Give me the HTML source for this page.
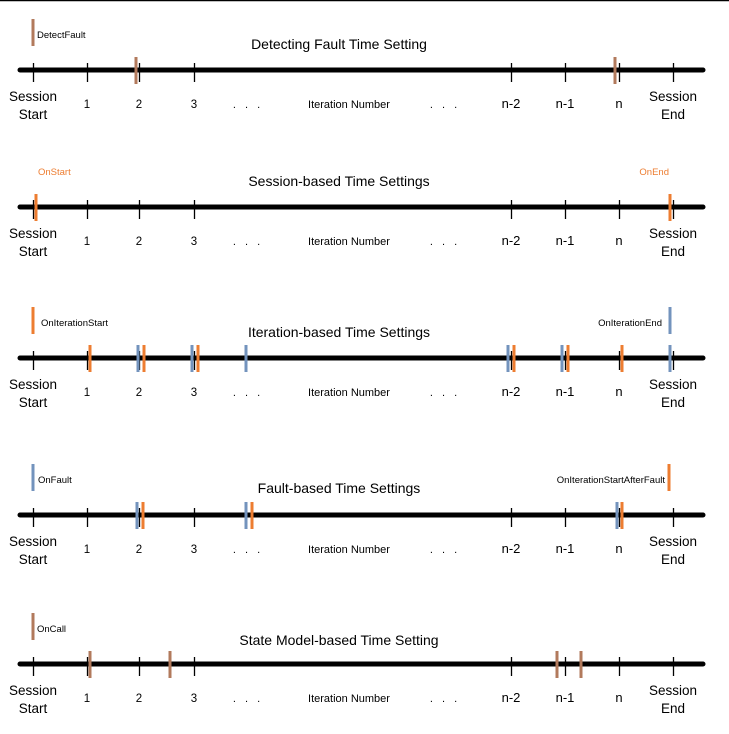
<!DOCTYPE html>
<html><head><meta charset="utf-8"><style>
body{margin:0;background:#fff;width:729px;height:734px;overflow:hidden}
svg{display:block;font-family:"Liberation Sans","DejaVu Sans",sans-serif}
</style></head><body>
<svg id="c" width="729" height="734">
<line x1="0" y1="0.5" x2="729" y2="0.5" stroke="#000" stroke-width="1.5"/>
</svg>
<script>
const tickLabels=["Session|Start","1","2","3","n-2","n-1","n","Session|End"];
const tickX=[33,87,139,194,511,565,619,673];
const titles=["Detecting Fault Time Setting","Session-based Time Settings","Iteration-based Time Settings","Fault-based Time Settings","State Model-based Time Setting"];
const axisY=[70,207,358,515,664];
const titleY=[49,186,337,493,645];
const BROWN="#b27a5c",ORANGE="#ed7d31",BLUE="#7393bd";
const panelMarkers=[
 [[136,BROWN],[615,BROWN]],
 [[36,ORANGE],[670,ORANGE]],
 [[90,ORANGE],[144,ORANGE],[198,ORANGE],[514,ORANGE],[568,ORANGE],[622,ORANGE],[138,BLUE],[192,BLUE],[246,BLUE],[508,BLUE],[562,BLUE],[670,BLUE]],
 [[137,BLUE],[246,BLUE],[617,BLUE],[143,ORANGE],[252,ORANGE],[622,ORANGE]],
 [[90,BROWN],[170,BROWN],[557,BROWN],[581,BROWN]]
];
const legends=[
 [[33,37,"DetectFault",BROWN,"#000","start"]],
 [[0,38,"OnStart",null,ORANGE,"start"],[0,669,"OnEnd",null,ORANGE,"end"]],
 [[33,41,"OnIterationStart",ORANGE,"#000","start"],[670,662,"OnIterationEnd",BLUE,"#000","end"]],
 [[33,38,"OnFault",BLUE,"#000","start"],[669,665,"OnIterationStartAfterFault",ORANGE,"#000","end"]],
 [[33,37,"OnCall",BROWN,"#000","start"]]
];
const svg=document.getElementById('c');
const NS="http://www.w3.org/2000/svg";
function mk(t,a,txt){const e=document.createElementNS(NS,t);for(const k in a)e.setAttribute(k,a[k]);if(txt!=null)e.textContent=txt;svg.appendChild(e);return e;}
axisY.forEach((ay,p)=>{
 const g=mk('line',{x1:20,y1:ay,x2:703,y2:ay,stroke:'#000','stroke-width':5,'stroke-linecap':'round'});
 
 
 const t=mk('text',{x:339,y:titleY[p],'text-anchor':'middle','font-size':14,fill:'#000'},titles[p]);
 
 
 tickX.forEach((x,i)=>{
  const tk=mk('line',{x1:x+0.5,y1:ay-7,x2:x+0.5,y2:ay+12,stroke:'#000','stroke-width':1.3});
  
  
  const parts=tickLabels[i].split('|');
  if(parts.length===2){
   const a=mk('text',{x:x,y:ay+31,'text-anchor':'middle','font-size':13.5,fill:'#000'},parts[0]);
   
   
   const b=mk('text',{x:x,y:ay+49,'text-anchor':'middle','font-size':13.5,fill:'#000'},parts[1]);
   
   
  }else{
   const fs=(parts[0].length>1||parts[0]==='n')?13:11.5;
   const a=mk('text',{x:x,y:ay+38,'text-anchor':'middle','font-size':fs,fill:'#000'},parts[0]);
   
   
  }
 });
 [248,445].forEach(x=>{
  const d=mk('text',{x:x,y:ay+38,'text-anchor':'middle','font-size':11,fill:'#000','letter-spacing':'3'},'. . .');
  
  
 });
 const il=mk('text',{x:349,y:ay+38,'text-anchor':'middle','font-size':11,fill:'#000'},'Iteration Number');
 
 
 panelMarkers[p].forEach(m=>{
  const r=mk('rect',{x:m[0]-1.5,y:ay-13,width:3,height:27,fill:m[1]});
  
  
 });
 legends[p].forEach(l=>{
  const ly=ay-50;
  if(l[3]){
   const r=mk('rect',{x:l[0]-1.5,y:ly-1,width:3,height:27,fill:l[3]});
   
   
  }
  const t=mk('text',{x:l[1],y:ly+18,'text-anchor':l[5],'font-size':9.5,fill:l[4]},l[2]);
  
  
 });
});
</script>
</body></html>
